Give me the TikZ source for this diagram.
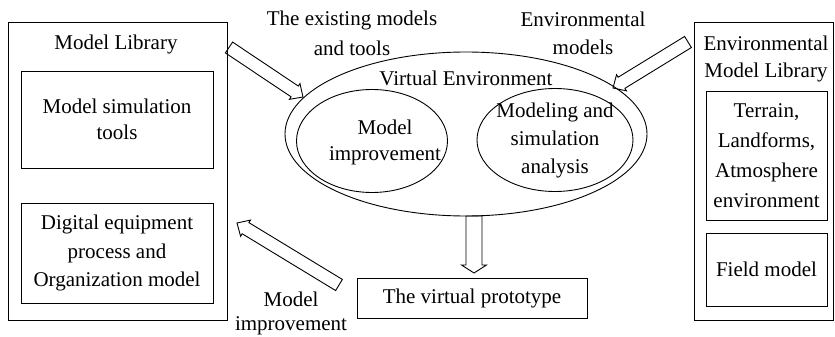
\documentclass[tikz,border=0pt]{standalone}
\usepackage{fontspec}
\setmainfont{Liberation Serif}
\usetikzlibrary{calc,shapes.geometric}
\newcommand\fsz[1]{\fontsize{21}{#1}\selectfont}
\newcommand\blockarrow[5]{%
  \coordinate (#1#2c) at ($(#2)!#5!(#1)$);
  \draw[arr] ($(#1)!#3!90:(#2)$) -- ($(#1#2c)!#3!90:(#2)$) -- ($(#1#2c)!#4!90:(#2)$) -- (#2)
    -- ($(#1#2c)!#4!-90:(#2)$) -- ($(#1#2c)!#3!-90:(#2)$) -- ($(#1)!#3!-90:(#2)$) -- cycle;}
\tikzset{
  ln/.style={line width=0.9pt},
  box/.style={draw, ln, inner sep=0pt, align=center},
  oval/.style={draw, ln, ellipse, inner sep=0pt},
  txt/.style={inner sep=0pt, align=center},
  arr/.style={ln, line join=miter},
}
\begin{document}
\begin{tikzpicture}[x=1pt,y=-1pt]
\useasboundingbox (0,0) rectangle (835,337);
% left library
\node[box, minimum width=219pt, minimum height=298pt] (lib) at (117.5,171) {};
\node[txt, anchor=base, font=\fsz{27}] (libt) at (116,50) {Model Library};
\node[box, minimum width=192pt, minimum height=97pt, font=\fsz{26.4}] (mst) at (117,119.5) {Model simulation\\tools};
\node[box, minimum width=192pt, minimum height=100pt, font=\fsz{28.5}] (dep) at (117,253) {Digital equipment\\process and\\Organization model};
% right library
\node[box, minimum width=139pt, minimum height=298pt] (elib) at (763.5,171) {};
\node[txt, font=\fsz{27}] (elibt) at (766,58.5) {Environmental\\Model Library};
\node[box, minimum width=121pt, minimum height=129pt, font=\fsz{30}] (ter) at (766.5,155.5) {Terrain,\\Landforms,\\Atmosphere\\environment};
\node[box, minimum width=121pt, minimum height=73pt, font=\fsz{27}] (fld) at (766.5,269.5) {Field model};
% virtual environment
\node[oval, minimum width=362pt, minimum height=164pt] (ve) at (466,134) {};
\node[txt, anchor=base, font=\fsz{27}] (vet) at (466,85) {Virtual Environment};
\node[oval, minimum width=151pt, minimum height=103pt] (mi) at (372,141) {};
\node[txt, font=\fsz{26}] (mit) at (385,142) {Model\\improvement};
\node[oval, minimum width=156pt, minimum height=103pt] (msa) at (555,140) {};
\node[txt, font=\fsz{28}] (msat) at (555,140) {Modeling and\\simulation\\analysis};
% prototype
\node[box, minimum width=230pt, minimum height=40pt, font=\fsz{27}] (vp) at (472,298) {The virtual prototype};
% labels
\node[txt, font=\fsz{30}] (l1) at (352,32.9) {The existing models\\and tools};
\node[txt, font=\fsz{28}] (l2) at (583,33.8) {Environmental\\models};
\node[txt, font=\fsz{24}] (l3) at (291,313) {Model\\improvement};
% arrows
\coordinate (a1t) at (229,47.5);
\coordinate (a1h) at (303,97);
\coordinate (a2t) at (688,42);
\coordinate (a2h) at (613,88);
\coordinate (a3t) at (474,216);
\coordinate (a3h) at (474,273);
\coordinate (a4t) at (339,285);
\coordinate (a4h) at (237,223);
\blockarrow{a1t}{a1h}{6.5pt}{9.5pt}{10pt}
\blockarrow{a2t}{a2h}{6.5pt}{9.5pt}{10pt}
\blockarrow{a3t}{a3h}{8pt}{12.5pt}{8pt}
\blockarrow{a4t}{a4h}{6.5pt}{9.5pt}{10pt}
\end{tikzpicture}
\end{document}
